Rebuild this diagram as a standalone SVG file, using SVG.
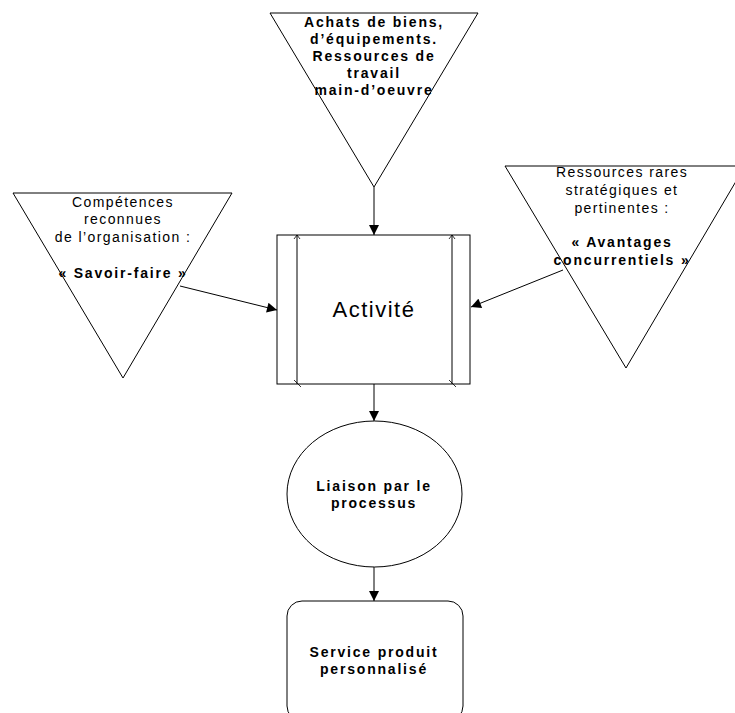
<svg xmlns="http://www.w3.org/2000/svg" width="735" height="713" viewBox="0 0 735 713">
<style>
.shape{fill:#fff;stroke:#000;stroke-width:1}
.t{font-family:"Liberation Sans",Arial,sans-serif;font-size:14px;letter-spacing:1.4px;text-anchor:middle;fill:#000}
.b{font-weight:bold;letter-spacing:1.8px}
.conn{stroke:#000;stroke-width:1;fill:none}
.tick{stroke:#000;stroke-width:0.8;fill:none}
</style>
<defs>
<marker id="ah" viewBox="0 0 10 10" refX="10" refY="5" markerWidth="12" markerHeight="10" markerUnits="userSpaceOnUse" orient="auto">
<path d="M0,0 L10,5 L0,10 Z" fill="#000"/>
</marker>
</defs>
<rect width="735" height="713" fill="#fff"/>
<g id="connectors">
<line class="conn" x1="374" y1="187" x2="374" y2="235" marker-end="url(#ah)"/>
<line class="conn" x1="180" y1="286" x2="277" y2="310" marker-end="url(#ah)"/>
<line class="conn" x1="563" y1="270" x2="471" y2="307" marker-end="url(#ah)"/>
<line class="conn" x1="374" y1="384" x2="374" y2="421" marker-end="url(#ah)"/>
<line class="conn" x1="374" y1="567" x2="374" y2="601" marker-end="url(#ah)"/>
</g>
<g id="achats">
<polygon class="shape" points="270,13 478,13 374,187"/>
<text class="t b" x="374" y="27">Achats de biens,</text>
<text class="t b" x="374" y="44">d’équipements.</text>
<text class="t b" x="374" y="61">Ressources de</text>
<text class="t b" x="374" y="78">travail</text>
<text class="t b" x="374" y="95">main-d’oeuvre</text>
</g>
<g id="competences">
<polygon class="shape" points="13,193 232,193 123,378"/>
<text class="t" x="123" y="207">Compétences</text>
<text class="t" x="123" y="224">reconnues</text>
<text class="t" x="123" y="242">de l’organisation :</text>
<text class="t b" x="123" y="278">« Savoir-faire »</text>
</g>
<g id="ressources">
<polygon class="shape" points="505,166 745,166 626,368"/>
<text class="t" x="622" y="177">Ressources rares</text>
<text class="t" x="622" y="195">stratégiques et</text>
<text class="t" x="622" y="213">pertinentes :</text>
<text class="t b" x="622" y="247">« Avantages</text>
<text class="t b" x="622" y="265">concurrentiels »</text>
</g>
<g id="activite">
<rect class="shape" x="277" y="235" width="193" height="149"/>
<line class="conn" x1="297" y1="235" x2="297" y2="384"/>
<line class="conn" x1="452" y1="235" x2="452" y2="384"/>
<path class="tick" d="M294,239 L297,235 L300,239 M449,239 L452,235 L455,239 M294,380 L301,387 M449,380 L456,387"/>
<text class="t" x="374" y="317" style="font-size:22px;letter-spacing:1.5px">Activité</text>
</g>
<g id="liaison">
<ellipse class="shape" cx="374.5" cy="494" rx="87.5" ry="73"/>
<text class="t b" x="374" y="491">Liaison par le</text>
<text class="t b" x="374" y="508">processus</text>
</g>
<g id="service">
<rect class="shape" x="287" y="601" width="176" height="120" rx="15" ry="15"/>
<text class="t b" x="374" y="657">Service produit</text>
<text class="t b" x="374" y="674">personnalisé</text>
</g>
</svg>
